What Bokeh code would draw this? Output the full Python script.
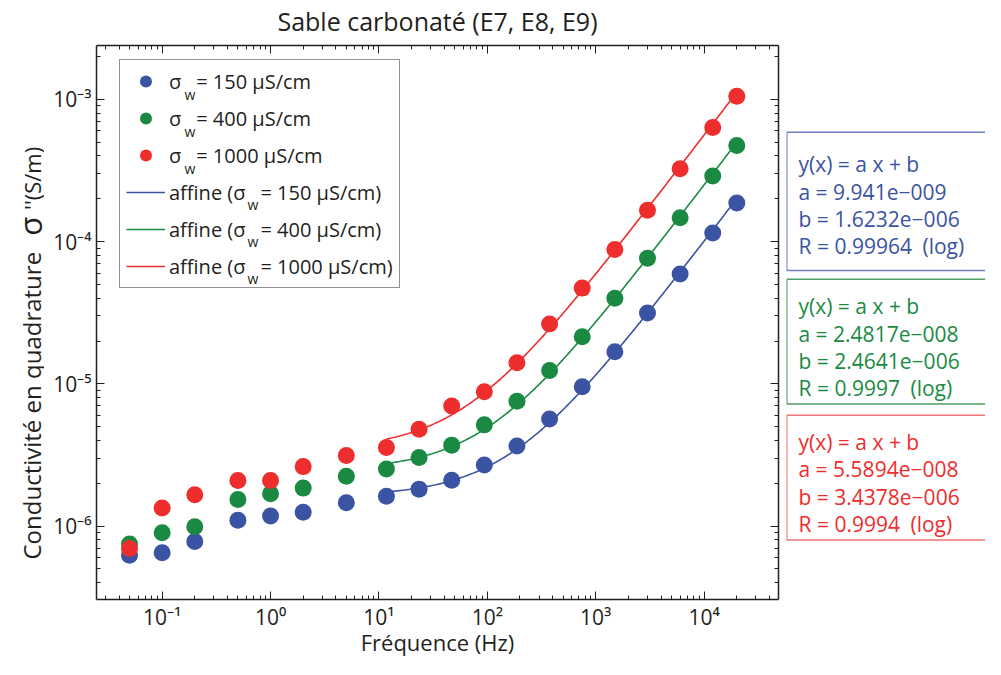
import math
import numpy as np
from bokeh.plotting import figure
from bokeh.layouts import row
from bokeh.models import (Range1d, FixedTicker, LogAxis, Legend, LegendItem,
                          CustomJSTickFormatter)
from bokeh.core.properties import value
from bokeh.embed import file_html
from bokeh.resources import INLINE

# ---------------- data ----------------
freq = [0.05, 0.1, 0.2, 0.5, 1, 2, 5, 11.72, 23.44, 46.88, 93.75, 187.5,
        375, 750, 1500, 3000, 6000, 12000, 20000]
sig_150 = [6.24e-7, 6.5e-7, 7.8e-7, 1.10e-6, 1.18e-6, 1.25e-6, 1.46e-6, 1.62e-6,
           1.82e-6, 2.10e-6, 2.69e-6, 3.66e-6, 5.67e-6, 9.55e-6, 1.68e-5, 3.15e-5,
           5.93e-5, 1.15e-4, 1.87e-4]
sig_400 = [7.5e-7, 8.97e-7, 9.9e-7, 1.54e-6, 1.69e-6, 1.85e-6, 2.24e-6, 2.52e-6,
           3.04e-6, 3.71e-6, 5.15e-6, 7.55e-6, 1.24e-5, 2.14e-5, 4.0e-5, 7.64e-5,
           1.47e-4, 2.89e-4, 4.74e-4]
sig_1000 = [6.95e-7, 1.34e-6, 1.66e-6, 2.09e-6, 2.09e-6, 2.62e-6, 3.14e-6, 3.57e-6,
            4.80e-6, 7.0e-6, 8.81e-6, 1.41e-5, 2.64e-5, 4.71e-5, 8.81e-5, 1.66e-4,
            3.25e-4, 6.34e-4, 1.05e-3]
sigma_w = ["150", "400", "1000"]
fit_a = [9.941e-9, 2.4817e-8, 5.5894e-8]
fit_b = [1.6232e-6, 2.4641e-6, 3.4378e-6]
a_text = ["9.941e\u2212009", "2.4817e\u2212008", "5.5894e\u2212008"]
b_text = ["1.6232e\u2212006", "2.4641e\u2212006", "3.4378e\u2212006"]
r_text = ["0.99964", "0.9997", "0.9994"]
fit_start = 7  # index of first frequency used by the fit

x_tick_exps = [-1, 0, 1, 2, 3, 4]
x_tick_labels = ["10\u207b\u00b9", "10\u2070", "10\u00b9", "10\u00b2", "10\u00b3", "10\u2074"]
y_tick_exps = [-6, -5, -4, -3]
y_tick_labels = ["10\u207b\u2076", "10\u207b\u2075", "10\u207b\u2074", "10\u207b\u00b3"]

title_text = "Sable carbonat\u00e9 (E7, E8, E9)"
xlabel_text = "Fr\u00e9quence (Hz)"
ylabel_parts = ["Conductivit\u00e9 en quadrature", "\u03c3", "''(S/m)"]

# ---------------- style / layout ----------------
FONT = "Open Sans"
TXT = "#231f20"
colors = ["#3a53a3", "#1a8a43", "#ee2d2d"]
box_colors = ["#6d7ec1", "#4c9f66", "#f27474"]

W0, W1, W2, H = 44, 742, 199, 659          # left label strip, main plot, fit boxes
FRAME_L, FRAME_R, FRAME_T, FRAME_B = 96, 778, 43, 599   # page pixels
X_LO, X_HI = 0.0248, 4.85e4
Y_LO, Y_HI = 3.05e-7, 2.39e-3


def blank_panel(width, x0):
    f = figure(width=width, height=H, x_range=Range1d(x0, x0 + width),
               y_range=Range1d(FRAME_B, FRAME_T), x_axis_location=None,
               y_axis_location=None, min_border=0, output_backend="svg",
               toolbar_location=None)
    f.outline_line_color = None
    f.xgrid.visible = False
    f.ygrid.visible = False
    f.background_fill_color = "white"
    f.border_fill_color = "white"
    return f


p = figure(width=W1, height=H, x_axis_type="log", y_axis_type="log",
           x_range=Range1d(X_LO, X_HI), y_range=Range1d(Y_LO, Y_HI),
           min_border_left=FRAME_L - W0, min_border_right=W0 + W1 - FRAME_R,
           min_border_top=FRAME_T, min_border_bottom=H - FRAME_B,
           output_backend="svg", toolbar_location=None)
p.outline_line_color = None
p.xgrid.visible = False
p.ygrid.visible = False
p.background_fill_color = "white"
p.border_fill_color = "white"

xt = FixedTicker(ticks=[float("1e%d" % e) for e in x_tick_exps],
                 minor_ticks=[m * float("1e%d" % e) for e in range(-2, 5) for m in range(2, 10)])
yt = FixedTicker(ticks=[float("1e%d" % e) for e in y_tick_exps],
                 minor_ticks=[m * float("1e%d" % e) for e in range(-7, -2) for m in range(2, 10)])


def style_axis(ax, ticker, labels=None):
    ax.ticker = ticker
    ax.axis_line_color = TXT
    ax.axis_line_width = 1.5
    ax.major_tick_line_color = TXT
    ax.minor_tick_line_color = TXT
    ax.major_tick_in = 8
    ax.major_tick_out = 0
    ax.minor_tick_in = 4
    ax.minor_tick_out = 0
    ax.major_label_text_font = FONT
    ax.major_label_text_color = TXT
    ax.major_label_text_font_size = "21px"
    ax.axis_label_text_font = FONT
    ax.axis_label_text_font_style = "normal"
    ax.axis_label_text_color = TXT
    if labels is None:
        ax.formatter = CustomJSTickFormatter(code="return ''")
        ax.major_label_text_font_size = "1px"
        ax.major_label_standoff = 0
    else:
        ax.major_label_overrides = labels


xa = p.xaxis[0]
ya = p.yaxis[0]
style_axis(xa, xt, {float("1e%d" % e): l for e, l in zip(x_tick_exps, x_tick_labels)})
style_axis(ya, yt, {float("1e%d" % e): l for e, l in zip(y_tick_exps, y_tick_labels)})
xa.major_label_standoff = 3
ya.major_label_standoff = 5
xa.axis_label = xlabel_text
xa.axis_label_text_font_size = "22px"
xa.axis_label_standoff = -7

top_ax = LogAxis()
style_axis(top_ax, xt)
top_ax.axis_label = title_text
top_ax.axis_label_text_font_size = "25px"
top_ax.axis_label_standoff = 8
p.add_layout(top_ax, "above")
right_ax = LogAxis()
style_axis(right_ax, yt)
p.add_layout(right_ax, "right")

# ---------------- glyphs ----------------
series = [sig_150, sig_400, sig_1000]
scat_r, line_r = [], []
for i, ys in enumerate(series):
    fx = np.geomspace(freq[fit_start], freq[-1], 300)
    fy = fit_a[i] * fx + fit_b[i]
    line_r.append(p.line(fx, fy, line_color=colors[i], line_width=1.6))
for i, ys in enumerate(series):
    scat_r.append(p.scatter(freq, ys, size=17, fill_color=colors[i], line_color=None))

# ---------------- legend ----------------
GAP = "\u2002\u2005"
items = [LegendItem(label="\u03c3" + GAP + "= %s \u00b5S/cm" % s, renderers=[scat_r[i]])
         for i, s in enumerate(sigma_w)]
items += [LegendItem(label="affine (\u03c3" + GAP + "= %s \u00b5S/cm)" % s, renderers=[line_r[i]])
          for i, s in enumerate(sigma_w)]
legend = Legend(items=items, location=(119 - FRAME_L, FRAME_B - 288), padding=6, spacing=7,
                glyph_width=39, glyph_height=30, label_height=30, label_standoff=4,
                label_text_font=FONT, label_text_font_size="20px", label_text_color=TXT,
                border_line_color=TXT, border_line_width=1.5, background_fill_alpha=0.0,
                margin=0)
p.add_layout(legend)


# subscript "w" of sigma in the legend labels (pixel positions -> log coordinates)
def px_to_x(sx):
    lo, hi = math.log10(X_LO), math.log10(X_HI)
    return 10 ** (lo + (sx - FRAME_L) / (FRAME_R - FRAME_L) * (hi - lo))


def px_to_y(sy):
    lo, hi = math.log10(Y_LO), math.log10(Y_HI)
    return 10 ** (lo + (FRAME_B - sy) / (FRAME_B - FRAME_T) * (hi - lo))


w_px_x = [184, 184, 184, 247, 247, 247]
w_px_y = [92 + 37 * i for i in range(6)]
p.text(x=[px_to_x(v) for v in w_px_x], y=[px_to_y(v) for v in w_px_y], text=["w"] * 6,
       text_font=value(FONT), text_font_size=value("14px"), text_color=TXT,
       text_baseline="middle", text_align="left")

# ---------------- y-axis title (left strip) ----------------
p0 = blank_panel(W0, 0)
p0.text(x=[31], y=[404.5], text=[ylabel_parts[0]], angle=math.pi / 2,
        text_font=value(FONT), text_font_size=value("24px"), text_color=TXT,
        text_align="center", text_baseline="alphabetic")
p0.text(x=[29], y=[234], text=[ylabel_parts[1]], angle=math.pi / 2,
        text_font=value(FONT), text_font_size=value("31px"), text_color=TXT,
        text_align="left", text_baseline="alphabetic")
p0.text(x=[31], y=[208], text=[ylabel_parts[2]], angle=math.pi / 2,
        text_font=value(FONT), text_font_size=value("22px"), text_color=TXT,
        text_align="left", text_baseline="alphabetic")

# ---------------- fit result boxes (right strip) ----------------
p2 = blank_panel(W2, W0 + W1)
box_left, box_right = 786.3, 1060
box_top = [130, 277.7, 414]
box_bottom = [268.7, 402.7, 539.3]
first_base = [162.3, 304.7, 441]
line_step = 27.4
text_x = 798

p2.quad(left=[box_left] * 3, right=[box_right] * 3, top=box_top, bottom=box_bottom,
        fill_color="white", line_color=box_colors, line_width=1.5)
for i in range(3):
    lines = ["y(x) = a x + b", "a = " + a_text[i], "b = " + b_text[i],
             "R = " + r_text[i] + "\u2002(log)"]
    p2.text(x=[text_x] * 4, y=[first_base[i] + k * line_step for k in range(4)], text=lines,
            text_font=value(FONT), text_font_size=value("21px"), text_color=colors[i],
            text_baseline="alphabetic", text_align="left")

layout = row(p0, p, p2)
open("out.html", "w").write(file_html(layout, INLINE))
